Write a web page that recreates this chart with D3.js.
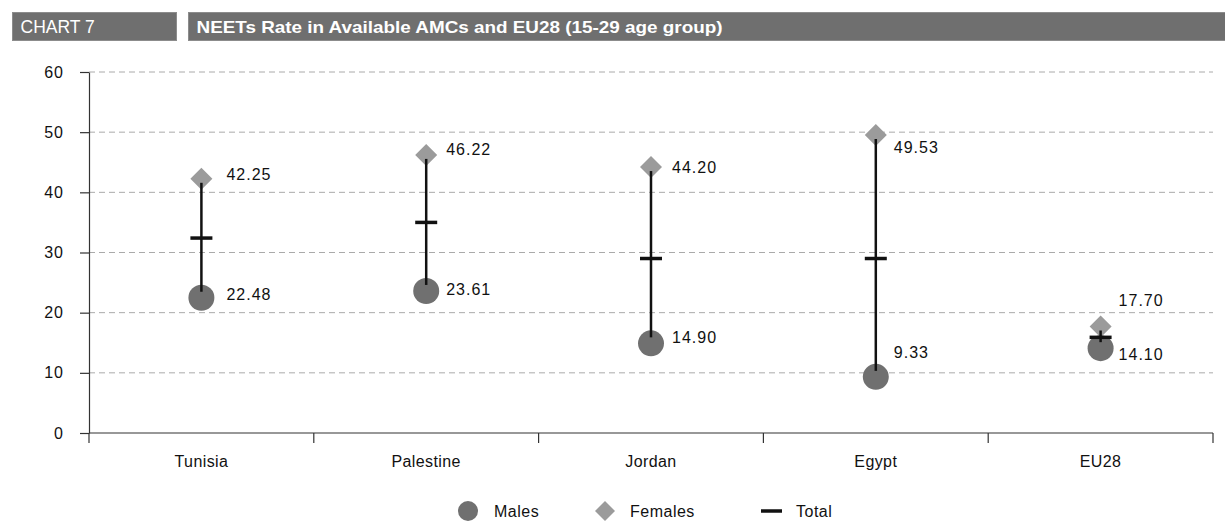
<!DOCTYPE html>
<html><head><meta charset="utf-8">
<script src="https://cdn.jsdelivr.net/npm/d3@7"></script>
<style>
body{margin:0;background:#fff;}
text{font-family:"Liberation Sans",Arial,Helvetica,sans-serif;}
</style></head>
<body><svg id="chart" width="1225" height="522"></svg>
<script>
const categories = ["Tunisia","Palestine","Jordan","Egypt","EU28"];
const males   = [22.48, 23.61, 14.90, 9.33, 14.10];
const females = [42.25, 46.22, 44.20, 49.53, 17.70];
const totals  = [32.4, 35.0, 29.0, 29.0, 15.9];
const yTicks  = [0,10,20,30,40,50,60];
const chartLabel = "CHART 7";
const chartTitle = "NEETs Rate in Available AMCs and EU28 (15-29 age group)";
const legendLabels = ["Males","Females","Total"];

// label placement tweaks (styling only)
const labelDx = [25,20,21,18,18];
const femaleDy = [-4,-6,0,12,-26];
const maleDy = [-3,-2,-6,-24,6];

const svg = d3.select("#chart");
const mLeft = 89, mRight = 1213, mTop = 72, mBottom = 433;
const x = d3.scaleBand().domain(categories).range([mLeft,mRight]).padding(0);
const y = d3.scaleLinear().domain([0,60]).range([mBottom,mTop]);

// header
const hdrFill = "#6f6f6f";
svg.append("rect").attr("x",12.5).attr("y",12.5).attr("width",164).attr("height",28).attr("fill",hdrFill).attr("stroke","#8c8c8c").attr("stroke-width",1);
svg.append("rect").attr("x",188.5).attr("y",12.5).attr("width",1040).attr("height",28).attr("fill",hdrFill).attr("stroke","#8c8c8c").attr("stroke-width",1);
svg.append("text").attr("x",20.5).attr("y",33.3).attr("fill","#fff").attr("font-size",17.5)
  .text(chartLabel);
svg.append("text").attr("x",196.5).attr("y",33.3).attr("fill","#fff").attr("font-size",17).attr("font-weight","bold")
  .attr("textLength",526).attr("lengthAdjust","spacingAndGlyphs").text(chartTitle);

// gridlines
svg.append("g").selectAll("line").data(yTicks.filter(d=>d>0)).join("line")
  .attr("x1",mLeft).attr("x2",mRight).attr("y1",d=>y(d)).attr("y2",d=>y(d))
  .attr("stroke","#aaa").attr("stroke-width",1).attr("stroke-dasharray","6,4");

// y axis
const yAxis = d3.axisLeft(y).tickValues(yTicks).tickSize(9).tickPadding(16).tickSizeOuter(0);
const gy = svg.append("g").attr("transform",`translate(${mLeft},0)`).call(yAxis);
gy.select(".domain").attr("stroke","#333").attr("stroke-width",1.2);
gy.selectAll(".tick line").attr("stroke","#333").attr("stroke-width",1.2);
gy.selectAll(".tick text").attr("font-size",16).attr("fill","#111")
  .style("font-family","'Liberation Sans',Arial,sans-serif").attr("letter-spacing","1px");

// x axis
const gx = svg.append("g").attr("transform",`translate(0,${mBottom})`);
gx.append("line").attr("x1",mLeft).attr("x2",mRight).attr("y1",0).attr("y2",0).attr("stroke","#333").attr("stroke-width",1.2);
const bounds = categories.map(c=>x(c)).concat([x(categories[categories.length-1])+x.bandwidth()]);
gx.selectAll(".bt").data(bounds).join("line").attr("class","bt")
  .attr("x1",d=>d).attr("x2",d=>d).attr("y1",0).attr("y2",10).attr("stroke","#333").attr("stroke-width",1.2);
gx.selectAll(".cl").data(categories).join("text").attr("class","cl")
  .attr("x",d=>x(d)+x.bandwidth()/2).attr("y",34).attr("text-anchor","middle")
  .attr("font-size",16).attr("letter-spacing","0.4px").attr("fill","#111").text(d=>d);

const cx = c => x(c)+x.bandwidth()/2;
const maleColor = "#707070", femaleColor = "#9b9b9b";
const diamond = (px,py,s) => `M${px},${py-s}L${px+s},${py}L${px},${py+s}L${px-s},${py}Z`;

const g = svg.append("g");
categories.forEach((c,i)=>{
  const px = cx(c);
  g.append("path").attr("d",diamond(px,y(females[i]),11)).attr("fill",femaleColor);
  g.append("circle").attr("cx",px).attr("cy",y(males[i])).attr("r",13).attr("fill",maleColor);
  g.append("line").attr("x1",px).attr("x2",px).attr("y1",y(females[i])+4).attr("y2",y(males[i])-6)
    .attr("stroke","#111").attr("stroke-width",2.5);
  g.append("line").attr("x1",px-11).attr("x2",px+11).attr("y1",y(totals[i])).attr("y2",y(totals[i]))
    .attr("stroke","#111").attr("stroke-width",3.5);
  g.append("text").attr("x",px+labelDx[i]).attr("y",y(females[i])+femaleDy[i]).attr("dy","0.35em")
    .attr("font-size",16).attr("fill","#111").attr("letter-spacing","1px").text(females[i].toFixed(2));
  g.append("text").attr("x",px+labelDx[i]).attr("y",y(males[i])+maleDy[i]).attr("dy","0.35em")
    .attr("font-size",16).attr("fill","#111").attr("letter-spacing","1px").text(males[i].toFixed(2));
});

// legend
const ly = 511;
const lg = svg.append("g");
lg.append("circle").attr("cx",468).attr("cy",ly).attr("r",10).attr("fill",maleColor);
lg.append("text").attr("x",494).attr("y",ly).attr("dy","0.35em").attr("font-size",16).attr("letter-spacing","0.5px").attr("fill","#111").text(legendLabels[0]);
lg.append("path").attr("d",diamond(605,ly,10)).attr("fill",femaleColor);
lg.append("text").attr("x",630).attr("y",ly).attr("dy","0.35em").attr("font-size",16).attr("letter-spacing","0.5px").attr("fill","#111").text(legendLabels[1]);
lg.append("line").attr("x1",761).attr("x2",782).attr("y1",ly).attr("y2",ly).attr("stroke","#111").attr("stroke-width",3.5);
lg.append("text").attr("x",796).attr("y",ly).attr("dy","0.35em").attr("font-size",16).attr("letter-spacing","0.5px").attr("fill","#111").text(legendLabels[2]);
</script></body></html>
